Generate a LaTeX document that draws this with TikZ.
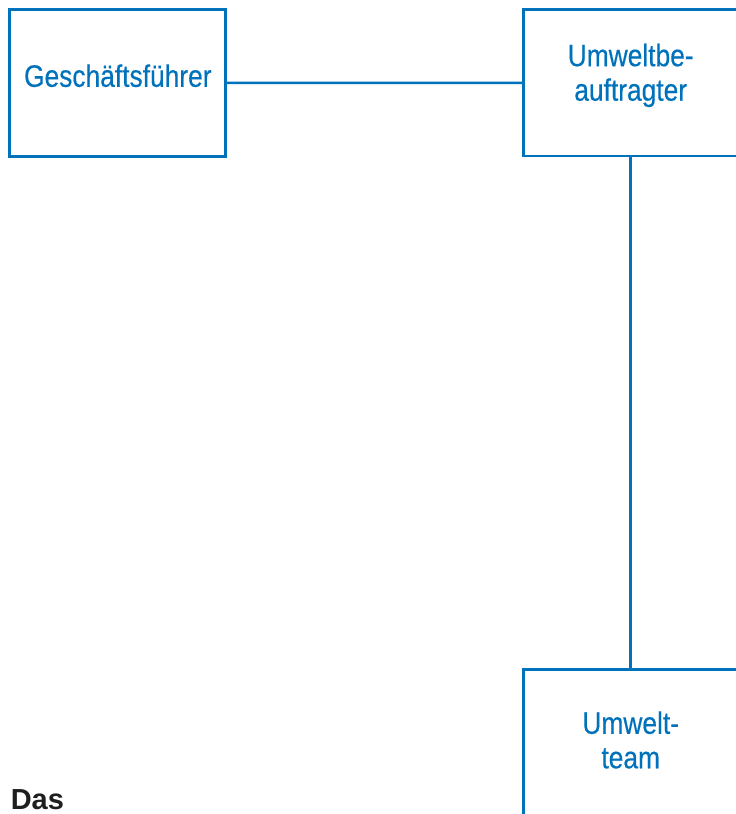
\documentclass[tikz,border=0pt]{standalone}
\usepackage{fontspec}
\setmainfont{Liberation Sans}
\newfontfamily\condfont[FakeStretch=0.85,FakeBold=0.4]{Liberation Sans}
\definecolor{umweltblau}{RGB}{0,114,187}

\begin{document}
\begin{tikzpicture}[x=1pt,y=-1pt,
    kasten/.style={draw=umweltblau,line width=2.7pt,minimum width=214pt,
      minimum height=146.6pt,inner sep=0pt},
    beschr/.style={text=umweltblau,font=\condfont\fontsize{31}{34.5}\selectfont,
      align=center,inner sep=0pt,anchor=base},
    linie/.style={draw=umweltblau,line width=2.5pt}]
  \useasboundingbox (0,0) rectangle (736,814);
  % Kaesten
  \node[kasten,minimum width=215.6pt] (gf) at (117.5,83) {};
  \node[kasten] (ub) at (630.7,82.7) {};
  \node[kasten] (ut) at (630.7,743) {};
  % Beschriftung (base = letzte Zeile)
  \node[beschr] (gftext) at (117.8,86.8) {Geschäftsführer};
  \node[beschr] (ubtext) at (630.7,100.7) {Umweltbe-\\auftragter};
  \node[beschr] (uttext) at (630.7,768.3) {Umwelt-\\team};
  \node[anchor=base west,inner sep=0pt,text=black!88,
    font=\bfseries\fontsize{29}{34}\selectfont] (das) at (10.6,809.3) {Das};
  % Verbindungen
  \draw[linie] (gf) -- (ub);
  \draw[linie] (ub) -- (ut);
\end{tikzpicture}
\end{document}
